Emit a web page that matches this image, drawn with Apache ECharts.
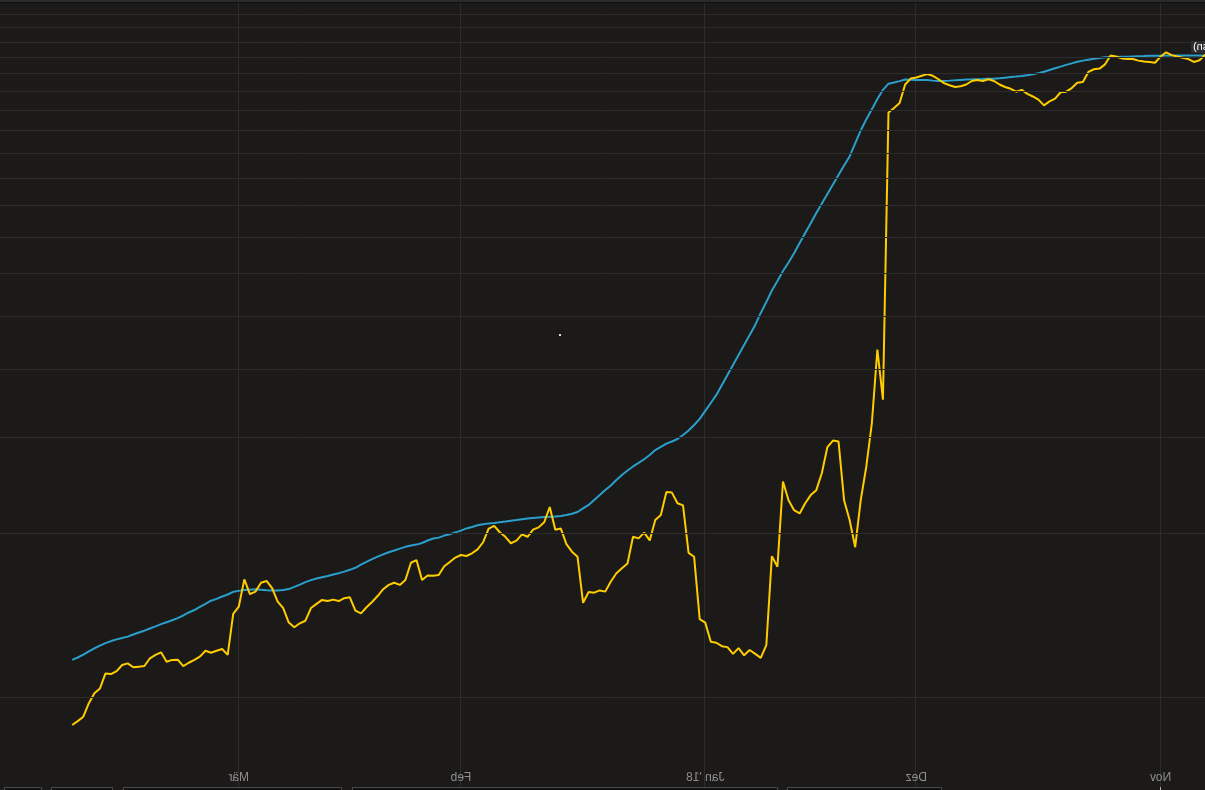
<!DOCTYPE html>
<html><head><meta charset="utf-8">
<script src="https://cdn.jsdelivr.net/npm/echarts@6/dist/echarts.min.js"></script>
<style>html,body{margin:0;padding:0;background:#1b1a19;overflow:hidden}#chart{width:1205px;height:790px;transform:scaleX(-1);}</style>
</head><body><div id="chart"></div>
<script>
// trading days (two samples per day)
const tradingDays = [
'2017-10-26','2017-10-27','2017-10-30','2017-10-31',
'2017-11-01','2017-11-02','2017-11-03','2017-11-06','2017-11-07','2017-11-08','2017-11-09','2017-11-10','2017-11-13','2017-11-14','2017-11-15','2017-11-16','2017-11-17','2017-11-20','2017-11-21','2017-11-22','2017-11-23','2017-11-24','2017-11-27','2017-11-28','2017-11-29','2017-11-30',
'2017-12-01','2017-12-04','2017-12-05','2017-12-06','2017-12-07','2017-12-08','2017-12-11','2017-12-12','2017-12-13','2017-12-14','2017-12-15','2017-12-18','2017-12-19','2017-12-20','2017-12-21','2017-12-22','2017-12-27','2017-12-28','2017-12-29',
'2018-01-02','2018-01-03','2018-01-04','2018-01-05','2018-01-08','2018-01-09','2018-01-10','2018-01-11','2018-01-12','2018-01-15','2018-01-16','2018-01-17','2018-01-18','2018-01-19','2018-01-22','2018-01-23','2018-01-24','2018-01-25','2018-01-26','2018-01-29','2018-01-30','2018-01-31',
'2018-02-01','2018-02-02','2018-02-05','2018-02-06','2018-02-07','2018-02-08','2018-02-09','2018-02-12','2018-02-13','2018-02-14','2018-02-15','2018-02-16','2018-02-19','2018-02-20','2018-02-21','2018-02-22','2018-02-23','2018-02-26','2018-02-27','2018-02-28',
'2018-03-01','2018-03-02','2018-03-05','2018-03-06','2018-03-07','2018-03-08','2018-03-09','2018-03-12','2018-03-13','2018-03-14','2018-03-15','2018-03-16','2018-03-19','2018-03-20','2018-03-21','2018-03-22','2018-03-23','2018-03-26','2018-03-27','2018-03-28','2018-03-29',
'2018-04-03'
];
const sessionTimes = ['09:00','14:00'];
const monthLabels = {'2017-11-01':'Nov','2017-12-01':'Dez','2018-01-02':"Jan '18",'2018-02-01':'Feb','2018-03-01':'Mär'};

// yellow line (price)
const priceValues = [
15150,14800,14700,14880,14960,15040,15130,15310,15040,14650,
14700,14720,14780,14880,14880,14920,15040,15100,14550,14290,
14250,14090,13500,13460,13160,12960,12930,12580,12440,12230,
12530,12700,12840,13060,12960,13120,13220,13360,13560,13660,
13560,13620,13560,13360,13260,13220,13320,13440,13660,13860,
13960,13860,13760,13700,13360,12350,12100,11865,3520,4350,
3185,2650,2300,1885,2115,2300,2950,2960,2880,2580,
2400,2350,2270,2175,2205,2300,2490,1735,1815,1245,
1180,1200,1220,1193,1230,1200,1235,1240,1258,1263,
1370,1390,1810,1840,2250,2270,2375,2380,2160,2115,
1940,2005,1957,1970,1760,1725,1688,1630,1562,1570,
1555,1560,1490,1811,1850,1910,2040,2030,2235,2095,
2050,2030,1970,1990,1938,1917,1970,2008,2063,2040,
1925,1868,1837,1816,1824,1804,1771,1739,1676,1670,
1673,1641,1785,1765,1641,1607,1622,1607,1578,1533,
1495,1462,1425,1441,1525,1519,1501,1510,1501,1508,
1483,1457,1381,1366,1343,1370,1456,1497,1585,1634,
1622,1562,1545,1645,1466,1421,1195,1225,1216,1206,
1216,1186,1170,1156,1140,1171,1170,1161,1208,1195,
1178,1140,1137,1134,1153,1145,1116,1102,1105,1037,
1016,974,920,903,888
];
// blue line (average)
const averageValues = [
15110,15110,15110,15110,15105,15100,15100,15100,15095,15090,
15085,15070,15060,15045,15030,15020,15010,15005,14990,14947,
14900,14840,14780,14705,14610,14517,14410,14310,14205,14100,
14018,13958,13898,13856,13815,13785,13750,13713,13695,13683,
13671,13660,13653,13641,13623,13600,13581,13563,13557,13581,
13611,13617,13623,13629,13641,13551,13479,13407,13060,12568,
12026,11525,11000,10410,9853,9485,9110,8750,8405,8074,
7756,7425,7128,6832,6541,6291,6067,5816,5587,5322,
5081,4829,4629,4437,4254,4077,3908,3746,3591,3471,
3356,3244,3162,3090,3031,2980,2949,2922,2881,2843,
2785,2735,2693,2653,2608,2559,2506,2448,2402,2351,
2302,2254,2221,2188,2172,2161,2151,2147,2144,2142,
2138,2133,2128,2122,2115,2109,2102,2096,2089,2085,
2078,2068,2054,2041,2022,2007,1991,1980,1963,1956,
1939,1919,1906,1898,1888,1874,1859,1845,1829,1811,
1792,1771,1751,1728,1713,1700,1689,1680,1669,1660,
1651,1640,1626,1609,1594,1579,1573,1569,1569,1571,
1574,1577,1575,1573,1567,1561,1543,1530,1515,1503,
1483,1465,1445,1430,1412,1396,1384,1372,1361,1348,
1336,1324,1314,1303,1291,1284,1276,1267,1256,1243,
1229,1213,1196,1182,1170
];
// horizontal grid values on the log scale
const gridValues = [1000,2000,3000,4000,5000,6000,7000,8000,9000,10000,11000,12000,13000,14000,15000,16000,17000,18000,19000];

const categories = tradingDays.flatMap(d => sessionTimes.map(t => d + ' ' + t));
const isMonthStart = (i, v) => v.endsWith(sessionTimes[0]) && monthLabels[v.slice(0,10)] !== undefined;

// bottom control strip boxes (partly visible at the lower edge)
const bottomBoxes = [[263,417],[427,852],[863,1081],[1092,1153],[1163,1200]];

const chart = echarts.init(document.getElementById('chart'), null, {renderer:'canvas'});
chart.setOption({
  backgroundColor:'#1b1a19',
  animation:false,
  grid:{left:0,right:-1,top:0,bottom:0},
  xAxis:{
    type:'category', data:categories, boundaryGap:false,
    axisLine:{show:false},
    axisTick:{show:true, inside:true, length:3, interval:isMonthStart, lineStyle:{color:'#b5b5b5'}},
    axisLabel:{show:true, inside:true, interval:isMonthStart, margin:6,
      formatter:v => monthLabels[v.slice(0,10)] || '',
      color:'#8e8e8e', fontSize:12, fontFamily:'Liberation Sans, Arial, sans-serif'},
    splitLine:{show:true, interval:isMonthStart, lineStyle:{color:'#2c2c2c', width:1}}
  },
  yAxis:{
    type:'log', logBase:10, min:674.6, max:19104,
    axisLine:{show:false}, axisTick:{show:false}, axisLabel:{show:false}, splitLine:{show:false}
  },
  graphic:[
    {type:'rect', shape:{x:0,y:0,width:1205,height:2}, style:{fill:'#2a2a2a'}, z:100},
    {type:'rect', shape:{x:0,y:2,width:1205,height:1}, style:{fill:'#0e0e0e'}, z:100},
    {type:'rect', shape:{x:644,y:334,width:2,height:2}, style:{fill:'#dddddd'}, z:100},
    {type:'rect', shape:{x:0,y:41,width:14,height:12}, style:{fill:'#2e2e2e'}, z:100},
    {type:'text', x:12, y:47, style:{text:'sn)', fill:'#ffffff', fontSize:11, fontFamily:'Liberation Sans, Arial', align:'right', verticalAlign:'middle'}, z:101}
  ].concat(bottomBoxes.map(b => ({type:'rect', shape:{x:b[0]+0.5, y:787.5, width:b[1]-b[0], height:8},
      style:{fill:'#111111', stroke:'#4a4a4a', lineWidth:1}, z:90}))),
  series:[
    {type:'line', data:[], silent:true, z:1,
      markLine:{silent:true, symbol:['none','none'], label:{show:false}, animation:false,
        lineStyle:{color:'#2c2c2c', width:1, type:'solid'},
        data:gridValues.map(v => ({yAxis:v}))}},
    {name:'Durchschnitt', type:'line', data:averageValues, showSymbol:false, symbol:'none', z:3,
      lineStyle:{color:'#2a9fcb', width:2}},
    {name:'Kurs', type:'line', data:priceValues, showSymbol:false, symbol:'none', z:4,
      lineStyle:{color:'#ffcc00', width:2}}
  ]
});
</script></body></html>
